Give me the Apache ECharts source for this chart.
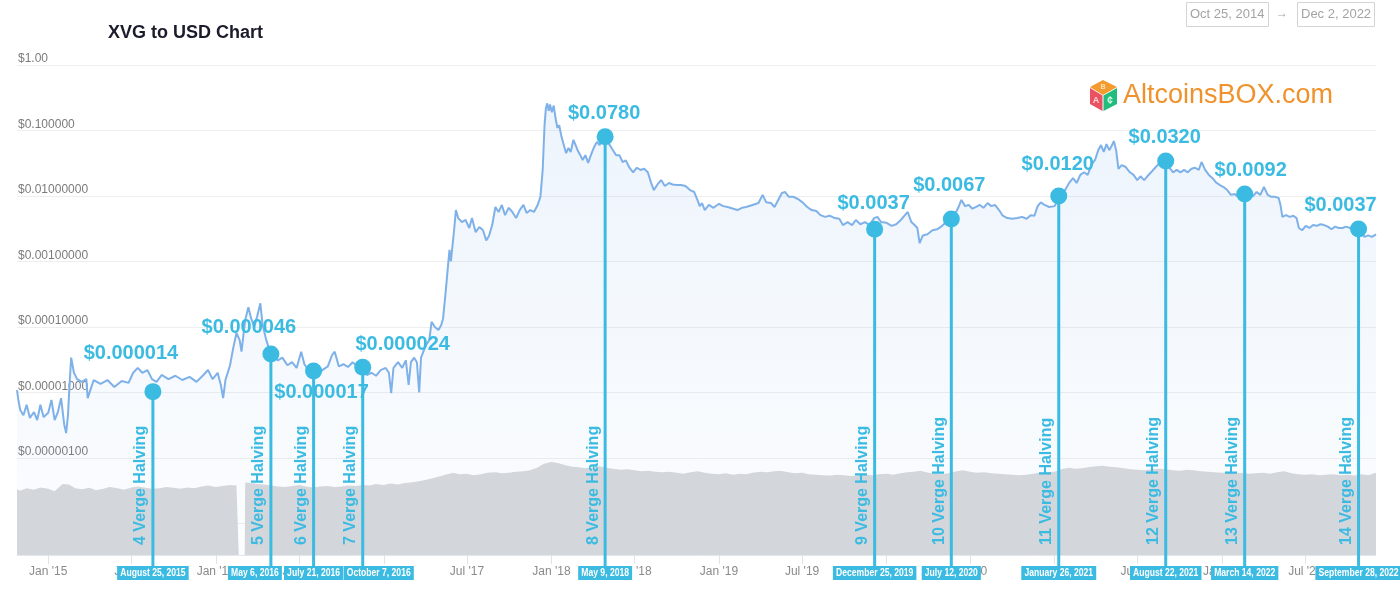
<!DOCTYPE html>
<html><head><meta charset="utf-8">
<script src="https://cdn.jsdelivr.net/npm/echarts@6/dist/echarts.min.js"></script>
<style>html,body{margin:0;padding:0;background:#fff}#c{width:1400px;height:600px}</style>
</head><body><div id="c"></div>
<script>
// ---------- DATA ----------
const rangeStart = 'Oct 25, 2014';
const rangeEnd = 'Dec 2, 2022';
const xMin = '2014-10-25';
const xMax = '2022-12-02';

const priceHistory = [
['2014-10-25',1.09e-5],['2014-10-28',7.7e-6],['2014-11-01',5.4e-6],['2014-11-08',4.5e-6],['2014-11-15',6.5e-6],['2014-11-22',4.1e-6],
['2014-12-01',5.0e-6],['2014-12-08',3.8e-6],['2014-12-15',6.5e-6],['2014-12-22',4.2e-6],['2015-01-01',4.9e-6],['2015-01-08',7.7e-6],
['2015-01-15',3.8e-6],['2015-01-22',5.0e-6],['2015-01-29',8.2e-6],['2015-02-05',3.2e-6],['2015-02-09',2.4e-6],['2015-02-13',4.5e-6],
['2015-02-17',1.55e-5],['2015-02-20',3.4e-5],['2015-02-26',2.0e-5],['2015-03-05',1.6e-5],['2015-03-15',1.45e-5],['2015-03-25',1.6e-5],
['2015-03-28',8.2e-6],['2015-04-10',1.55e-5],['2015-04-25',1.35e-5],['2015-05-10',1.55e-5],['2015-05-25',1.21e-5],['2015-06-10',1.5e-5],
['2015-06-25',1.4e-5],['2015-07-05',2.0e-5],['2015-07-15',2.37e-5],['2015-07-25',2.0e-5],['2015-08-05',2.2e-5],['2015-08-15',1.6e-5],
['2015-08-25',1.45e-5],['2015-09-05',1.85e-5],['2015-09-20',1.6e-5],['2015-10-05',1.8e-5],['2015-10-20',1.55e-5],['2015-11-05',1.73e-5],
['2015-11-20',1.45e-5],['2015-12-05',1.85e-5],['2015-12-15',2.2e-5],['2015-12-25',1.6e-5],['2016-01-05',2.0e-5],['2016-01-12',1.3e-5],
['2016-01-17',8.2e-6],['2016-01-22',1.55e-5],['2016-02-01',2.6e-5],['2016-02-08',4.8e-5],['2016-02-15',8.1e-5],['2016-02-22',6.3e-5],
['2016-02-26',4.2e-5],['2016-03-05',1.28e-4],['2016-03-12',2.0e-4],['2016-03-18',1.35e-4],['2016-03-25',1.0e-4],['2016-03-31',1.45e-4],
['2016-04-07',2.3e-4],['2016-04-12',1.07e-4],['2016-04-20',6.3e-5],['2016-04-28',4.2e-5],['2016-05-06',3.6e-5],['2016-05-15',3.1e-5],
['2016-05-25',3.4e-5],['2016-06-05',2.6e-5],['2016-06-15',2.9e-5],['2016-06-25',2.37e-5],['2016-07-05',4.2e-5],['2016-07-12',2.7e-5],
['2016-07-21',2.2e-5],['2016-08-01',2.0e-5],['2016-08-10',1.85e-5],['2016-08-20',2.2e-5],['2016-09-01',2.5e-5],['2016-09-10',3.7e-5],
['2016-09-16',4.2e-5],['2016-09-25',2.5e-5],['2016-10-05',2.7e-5],['2016-10-15',2.45e-5],['2016-10-25',2.9e-5],['2016-11-05',2.5e-5],
['2016-11-15',2.37e-5],['2016-11-25',1.85e-5],['2016-12-05',2.0e-5],['2016-12-15',1.8e-5],['2016-12-25',2.2e-5],['2017-01-05',2.37e-5],
['2017-01-12',2.0e-5],['2017-01-17',9.8e-6],['2017-01-22',2.37e-5],['2017-02-01',2.9e-5],['2017-02-10',2.37e-5],['2017-02-18',3.1e-5],
['2017-02-24',1.3e-5],['2017-03-01',2.9e-5],['2017-03-08',3.4e-5],['2017-03-14',2.9e-5],['2017-03-19',1.0e-5],['2017-03-23',3.4e-5],
['2017-03-28',4.2e-5],['2017-04-03',5.3e-5],['2017-04-10',6.3e-5],['2017-04-15',1.2e-4],['2017-04-22',1.0e-4],['2017-04-30',9.0e-5],
['2017-05-06',1.07e-4],['2017-05-10',1.35e-4],['2017-05-14',2.6e-4],['2017-05-18',5.2e-4],['2017-05-21',9.0e-4],['2017-05-24',1.5e-3],
['2017-05-27',1.0e-3],['2017-05-30',1.0e-3],['2017-06-03',3.0e-3],['2017-06-07',6.1e-3],['2017-06-12',4.6e-3],['2017-06-20',4.0e-3],
['2017-06-28',4.3e-3],['2017-07-06',3.25e-3],['2017-07-12',4.6e-3],['2017-07-20',2.8e-3],['2017-07-28',3.36e-3],['2017-08-05',3.0e-3],
['2017-08-12',2.1e-3],['2017-08-18',2.45e-3],['2017-08-25',3.6e-3],['2017-09-01',6.8e-3],['2017-09-08',5.7e-3],['2017-09-15',7.3e-3],
['2017-09-22',5.1e-3],['2017-09-30',6.6e-3],['2017-10-08',5.7e-3],['2017-10-16',4.6e-3],['2017-10-24',6.1e-3],['2017-11-01',7.3e-3],
['2017-11-08',5.5e-3],['2017-11-16',6.1e-3],['2017-11-24',5.7e-3],['2017-12-02',7.3e-3],['2017-12-08',9.7e-3],['2017-12-13',0.025],
['2017-12-17',0.12],['2017-12-20',0.22],['2017-12-23',0.26],['2017-12-26',0.2],['2017-12-29',0.25],['2018-01-02',0.19],
['2018-01-06',0.24],['2018-01-10',0.155],['2018-01-14',0.11],['2018-01-18',0.12],['2018-01-23',0.08],['2018-01-28',0.06],
['2018-02-02',0.045],['2018-02-07',0.054],['2018-02-12',0.047],['2018-02-18',0.072],['2018-02-22',0.077],['2018-02-27',0.05],
['2018-03-05',0.042],['2018-03-10',0.0355],['2018-03-16',0.042],['2018-03-22',0.032],['2018-03-28',0.042],['2018-04-03',0.054],
['2018-04-10',0.067],['2018-04-16',0.06],['2018-04-24',0.077],['2018-05-01',0.072],['2018-05-08',0.06],['2018-05-15',0.05],
['2018-05-22',0.042],['2018-05-29',0.042],['2018-06-05',0.033],['2018-06-12',0.035],['2018-06-20',0.027],['2018-06-28',0.023],
['2018-07-06',0.027],['2018-07-14',0.025],['2018-07-22',0.026],['2018-07-30',0.023],['2018-08-06',0.016],['2018-08-12',0.0123],
['2018-08-20',0.015],['2018-08-28',0.0175],['2018-09-05',0.0142],['2018-09-14',0.0158],['2018-09-22',0.015],['2018-10-01',0.0147],
['2018-10-10',0.0147],['2018-10-20',0.0142],['2018-10-30',0.0123],['2018-11-08',0.0115],['2018-11-15',0.0087],['2018-11-20',0.007],
['2018-11-25',0.0078],['2018-12-01',0.0061],['2018-12-10',0.0073],['2018-12-20',0.0066],['2019-01-01',0.0076],['2019-01-10',0.007],
['2019-01-20',0.0068],['2019-02-01',0.0064],['2019-02-10',0.0061],['2019-02-20',0.0066],['2019-03-01',0.0068],['2019-03-15',0.0073],
['2019-03-28',0.0078],['2019-04-06',0.0104],['2019-04-14',0.008],['2019-04-24',0.0078],['2019-05-02',0.0068],['2019-05-10',0.0087],
['2019-05-18',0.0111],['2019-05-25',0.0115],['2019-06-02',0.0097],['2019-06-12',0.0097],['2019-06-22',0.009],['2019-07-02',0.008],
['2019-07-12',0.0068],['2019-07-22',0.0061],['2019-08-01',0.0059],['2019-08-10',0.0051],['2019-08-20',0.0048],['2019-08-30',0.005],
['2019-09-10',0.0046],['2019-09-20',0.0045],['2019-09-28',0.0036],['2019-10-08',0.004],['2019-10-18',0.0036],['2019-10-26',0.0043],
['2019-11-05',0.0037],['2019-11-15',0.004],['2019-11-25',0.0036],['2019-12-05',0.0046],['2019-12-12',0.0048],['2019-12-20',0.004],
['2020-01-01',0.0039],['2020-01-12',0.0035],['2020-01-22',0.0037],['2020-02-01',0.0043],['2020-02-10',0.0051],['2020-02-16',0.0057],
['2020-02-24',0.004],['2020-03-02',0.0036],['2020-03-08',0.00325],['2020-03-13',0.0019],['2020-03-20',0.0025],['2020-03-30',0.0026],
['2020-04-10',0.003],['2020-04-20',0.0031],['2020-05-01',0.0035],['2020-05-10',0.004],['2020-05-20',0.0043],['2020-05-28',0.0051],
['2020-06-05',0.0066],['2020-06-12',0.0087],['2020-06-20',0.007],['2020-06-28',0.0073],['2020-07-06',0.0064],['2020-07-14',0.0068],
['2020-07-22',0.0073],['2020-07-30',0.0066],['2020-08-08',0.0078],['2020-08-16',0.007],['2020-08-24',0.0073],['2020-09-02',0.0061],
['2020-09-10',0.005],['2020-09-20',0.0046],['2020-10-01',0.0045],['2020-10-12',0.0046],['2020-10-22',0.0048],['2020-11-01',0.0045],
['2020-11-10',0.0051],['2020-11-18',0.005],['2020-11-25',0.007],['2020-12-02',0.008],['2020-12-10',0.0073],['2020-12-20',0.0068],
['2021-01-01',0.007],['2021-01-08',0.0087],['2021-01-16',0.0115],['2021-01-24',0.0123],['2021-02-02',0.016],['2021-02-10',0.0187],
['2021-02-18',0.0158],['2021-02-26',0.021],['2021-03-06',0.023],['2021-03-14',0.021],['2021-03-22',0.0297],['2021-03-30',0.0355],
['2021-04-06',0.05],['2021-04-12',0.06],['2021-04-18',0.047],['2021-04-24',0.062],['2021-04-30',0.05],['2021-05-05',0.058],
['2021-05-10',0.069],['2021-05-15',0.05],['2021-05-20',0.026],['2021-05-27',0.0297],['2021-06-05',0.0277],['2021-06-14',0.023],
['2021-06-22',0.021],['2021-06-30',0.0175],['2021-07-07',0.02],['2021-07-15',0.0175],['2021-07-22',0.02],['2021-07-30',0.023],
['2021-08-08',0.027],['2021-08-16',0.031],['2021-08-24',0.0355],['2021-09-01',0.032],['2021-09-08',0.027],['2021-09-16',0.023],
['2021-09-24',0.025],['2021-10-02',0.023],['2021-10-10',0.025],['2021-10-18',0.023],['2021-10-26',0.026],['2021-11-03',0.027],
['2021-11-11',0.025],['2021-11-17',0.033],['2021-11-25',0.025],['2021-12-03',0.021],['2021-12-11',0.0187],['2021-12-19',0.016],
['2021-12-27',0.0147],['2022-01-04',0.0137],['2022-01-12',0.0123],['2022-01-20',0.0104],['2022-01-28',0.0107],['2022-02-05',0.0097],
['2022-02-13',0.0111],['2022-02-21',0.01],['2022-03-01',0.0093],['2022-03-09',0.01],['2022-03-17',0.0115],['2022-03-25',0.0104],
['2022-04-02',0.0137],['2022-04-10',0.0104],['2022-04-18',0.0097],['2022-04-26',0.0097],['2022-05-04',0.0093],['2022-05-08',0.0073],
['2022-05-12',0.0048],['2022-05-20',0.0051],['2022-05-28',0.0048],['2022-06-05',0.005],['2022-06-12',0.0046],['2022-06-17',0.00325],
['2022-06-24',0.003],['2022-07-02',0.0035],['2022-07-10',0.00325],['2022-07-18',0.0036],['2022-07-26',0.0035],['2022-08-03',0.0037],
['2022-08-11',0.0036],['2022-08-19',0.0034],['2022-08-27',0.0031],['2022-09-04',0.0034],['2022-09-12',0.00325],['2022-09-20',0.00325],
['2022-09-28',0.0034],['2022-10-06',0.00325],['2022-10-14',0.0031],['2022-10-22',0.003],['2022-10-30',0.0028],['2022-11-07',0.00237],
['2022-11-15',0.0025],['2022-11-23',0.00237],['2022-12-02',0.0026]
];

// relative trading volume (index, 0-100 scale)
const volumeHistory = [
['2014-10-25',13.4],['2014-11-01',13.1],['2014-11-15',13.6],['2014-12-01',13.3],['2014-12-15',13.8],['2015-01-01',13.5],['2015-01-15',13.0],
['2015-02-01',14.5],['2015-02-15',14.4],['2015-03-01',13.6],['2015-03-15',13.4],['2015-04-01',13.7],['2015-04-15',13.2],['2015-05-01',13.5],
['2015-05-15',13.9],['2015-06-01',13.6],['2015-06-15',13.3],['2015-07-01',13.8],['2015-07-15',14.0],['2015-08-01',13.7],['2015-08-15',13.5],
['2015-09-01',13.6],['2015-09-15',13.9],['2015-10-01',13.7],['2015-10-15',13.5],['2015-11-01',13.8],['2015-11-15',13.6],['2015-12-01',14.0],
['2015-12-15',14.2],['2016-01-01',13.9],['2016-01-15',14.1],['2016-02-01',14.3],['2016-02-15',14.2],['2016-02-19',14.2],['2016-02-20',0],
['2016-03-04',0],['2016-03-05',14.8],['2016-03-15',14.7],['2016-04-01',14.5],['2016-04-15',14.4],['2016-05-01',14.2],['2016-05-15',14.0],
['2016-06-01',13.9],['2016-06-15',14.1],['2016-07-01',14.3],['2016-07-15',14.0],['2016-08-01',13.8],['2016-08-15',14.0],['2016-09-01',14.1],
['2016-09-15',13.9],['2016-10-01',14.0],['2016-10-15',14.2],['2016-11-01',14.1],['2016-11-15',14.3],['2016-12-01',14.2],['2016-12-15',14.5],
['2017-01-01',14.3],['2017-01-15',14.6],['2017-02-01',14.4],['2017-02-15',14.7],['2017-03-01',14.8],['2017-03-15',15.0],['2017-04-01',15.3],
['2017-04-15',15.6],['2017-05-01',16.0],['2017-05-15',16.4],['2017-06-01',16.8],['2017-06-15',16.5],['2017-07-01',16.6],['2017-07-15',16.3],
['2017-08-01',16.5],['2017-08-15',16.8],['2017-09-01',16.9],['2017-09-15',16.7],['2017-10-01',16.8],['2017-10-15',17.0],['2017-11-01',17.1],
['2017-11-15',17.3],['2017-12-01',17.8],['2017-12-15',18.6],['2018-01-01',19.0],['2018-01-15',18.8],['2018-02-01',18.3],['2018-02-15',18.0],
['2018-03-01',17.9],['2018-03-15',17.7],['2018-04-01',17.9],['2018-04-15',18.1],['2018-05-01',17.8],['2018-05-15',17.6],['2018-06-01',17.4],
['2018-06-15',17.5],['2018-07-01',17.3],['2018-07-15',17.1],['2018-08-01',17.2],['2018-08-15',17.0],['2018-09-01',16.9],['2018-09-15',17.0],
['2018-10-01',16.8],['2018-10-15',16.6],['2018-11-01',16.9],['2018-11-15',17.1],['2018-12-01',16.8],['2018-12-15',16.6],['2019-01-01',16.5],
['2019-01-15',16.7],['2019-02-01',16.4],['2019-02-15',16.6],['2019-03-01',16.5],['2019-03-15',16.8],['2019-04-01',17.0],['2019-04-15',16.9],
['2019-05-01',17.1],['2019-05-15',17.2],['2019-06-01',16.9],['2019-06-15',16.7],['2019-07-01',16.8],['2019-07-15',16.5],['2019-08-01',16.4],
['2019-08-15',16.3],['2019-09-01',16.2],['2019-09-15',16.4],['2019-10-01',16.3],['2019-10-15',16.1],['2019-11-01',16.2],['2019-11-15',16.4],
['2019-12-01',16.3],['2019-12-15',16.5],['2020-01-01',16.6],['2020-01-15',16.4],['2020-02-01',16.7],['2020-02-15',16.9],['2020-03-01',17.0],
['2020-03-15',17.2],['2020-04-01',16.8],['2020-04-15',16.6],['2020-05-01',16.5],['2020-05-15',16.7],['2020-06-01',17.1],['2020-06-15',17.3],
['2020-07-01',17.0],['2020-07-15',16.8],['2020-08-01',16.9],['2020-08-15',16.7],['2020-09-01',16.6],['2020-09-15',16.5],['2020-10-01',16.4],
['2020-10-15',16.3],['2020-11-01',16.4],['2020-11-15',16.6],['2020-12-01',16.8],['2020-12-15',16.9],['2021-01-01',17.0],['2021-01-15',17.5],
['2021-02-01',17.8],['2021-02-15',17.6],['2021-03-01',17.7],['2021-03-15',17.9],['2021-04-01',18.1],['2021-04-15',18.2],['2021-05-01',18.0],
['2021-05-15',17.9],['2021-06-01',17.7],['2021-06-15',17.5],['2021-07-01',17.4],['2021-07-15',17.3],['2021-08-01',17.5],['2021-08-15',17.6],
['2021-09-01',17.5],['2021-09-15',17.3],['2021-10-01',17.2],['2021-10-15',17.4],['2021-11-01',17.3],['2021-11-15',17.1],['2021-12-01',17.0],
['2021-12-15',16.9],['2022-01-01',16.8],['2022-01-15',16.9],['2022-02-01',16.7],['2022-02-15',16.8],['2022-03-01',16.6],['2022-03-15',16.7],
['2022-04-01',16.8],['2022-04-15',16.6],['2022-05-01',16.9],['2022-05-15',17.1],['2022-06-01',16.7],['2022-06-15',16.5],['2022-07-01',16.4],
['2022-07-15',16.5],['2022-08-01',16.3],['2022-08-15',16.4],['2022-09-01',16.5],['2022-09-15',16.3],['2022-10-01',16.4],['2022-10-15',16.2],
['2022-11-01',16.5],['2022-11-15',16.3],['2022-12-02',16.8]
];

const yTickLabels = ['$1.00','$0.100000','$0.01000000','$0.00100000','$0.00010000','$0.00001000','$0.00000100'];
const xTickDates = ['2015-01-01','2015-07-01','2016-01-01','2016-07-01','2017-01-01','2017-07-01','2018-01-01','2018-07-01',
  '2019-01-01','2019-07-01','2020-01-01','2020-07-01','2021-01-01','2021-07-01','2022-01-01','2022-07-01'];
const monthNames = ['Jan','Feb','Mar','Apr','May','Jun','Jul','Aug','Sep','Oct','Nov','Dec'];

const halvingNumbers = [4,5,6,7,8,9,10,11,12,13,14];
const halvingDateLabels = ['August 25, 2015','May 6, 2016','July 21, 2016','October 7, 2016','May 9, 2018','December 25, 2019',
  'July 12, 2020','January 26, 2021','August 22, 2021','March 14, 2022','September 28, 2022'];
const halvingPriceLabels = ['$0.000014','$0.000046','$0.000017','$0.000024','$0.0780','$0.0037','$0.0067','$0.0120','$0.0320','$0.0092','$0.0037'];
// where each marker sits on the chart
const halvingMarkDates = ['2015-08-17','2016-04-30','2016-08-01','2016-11-16','2018-04-28','2019-12-06','2020-05-21','2021-01-10','2021-08-31','2022-02-19','2022-10-25'];
const halvingMarkPrices = [1.03e-5,3.87e-5,2.13e-5,2.43e-5,0.0805,0.0031,0.00445,0.0100,0.0342,0.0107,0.00313];

// ---------- STYLE (positions of annotation texts relative to the markers) ----------
const priceLabelOffsets = [[-22,-38],[-22,-26],[8,22],[40,-23],[-1,-23],[-1,-26],[-2,-34],[-1,-32],[-1,-24],[6,-24],[-18,-24]];
const dateBoxShifts = [0,-16,0,16,0,0,0,0,0,0,0];

const MARK = '#3bbbe2';
const FONT = '"Liberation Sans", Arial, sans-serif';
const ts = (d) => Date.parse(d + 'T00:00:00Z');

const chart = echarts.init(document.getElementById('c'), null, {renderer: 'canvas'});

const option = {
  animation: false,
  backgroundColor: '#fff',
  title: [
    {text: 'XVG to USD Chart', left: 108, top: 24, padding: 0,
     textStyle: {fontFamily: FONT, fontSize: 18, fontWeight: 'bold', color: '#1b1b2b'}},
    {text: rangeStart, left: 1186, top: 2, padding: [6, 4, 6, 4], borderColor: '#d4d4d4', borderWidth: 1,
     textStyle: {fontFamily: FONT, fontSize: 13, fontWeight: 'normal', color: '#a3a3a3'}},
    {text: '→', left: 1276, top: 8, padding: 0,
     textStyle: {fontFamily: FONT, fontSize: 12, fontWeight: 'normal', color: '#a3a3a3'}},
    {text: rangeEnd, left: 1297, top: 2, padding: [6, 4, 6, 4], borderColor: '#d4d4d4', borderWidth: 1,
     textStyle: {fontFamily: FONT, fontSize: 13, fontWeight: 'normal', color: '#a3a3a3'}}
  ],
  graphic: [
    {type: 'polygon', shape: {points: [[1103,80],[1117,87],[1103,95],[1090,87]]}, style: {fill: '#f39b2f'}},
    {type: 'polygon', shape: {points: [[1090,88],[1102.5,95.5],[1102.5,111],[1090,104]]}, style: {fill: '#ea5161'}},
    {type: 'polygon', shape: {points: [[1103.5,95.5],[1117,88],[1117,104],[1103.5,111]]}, style: {fill: '#22bd7c'}},
    {type: 'text', x: 1103, y: 87, style: {text: 'B', fill: '#ffe3b8', font: 'bold 7px ' + FONT, align: 'center', verticalAlign: 'middle'}},
    {type: 'text', x: 1096, y: 101, style: {text: 'A', fill: '#ffd6da', font: 'bold 9px ' + FONT, align: 'center', verticalAlign: 'middle'}},
    {type: 'text', x: 1110, y: 101, style: {text: '¢', fill: '#d6ffe9', font: 'bold 10px ' + FONT, align: 'center', verticalAlign: 'middle'}},
    {type: 'text', x: 1123, y: 96, style: {text: 'AltcoinsBOX.com', fill: '#f0922c', font: '27px ' + FONT, align: 'left', verticalAlign: 'middle'}}
  ],
  grid: {left: 17, right: 24, top: 65, bottom: 45, containLabel: false},
  xAxis: {
    type: 'value', min: ts(xMin), max: ts(xMax),
    axisLine: {show: true, lineStyle: {color: '#e3e7ee'}},
    axisTick: {show: true, length: 9, lineStyle: {color: '#dfe4ec'}, customValues: xTickDates.map(ts)},
    axisLabel: {
      customValues: xTickDates.map(ts),
      margin: 11, color: '#8a8a8a', fontSize: 12, fontFamily: FONT,
      formatter: (v) => { const d = new Date(v); return monthNames[d.getUTCMonth()] + " '" + String(d.getUTCFullYear()).slice(2); }
    },
    splitLine: {show: false}
  },
  yAxis: [
    {
      type: 'log', logBase: 10, min: 3.3e-8, max: 1,
      axisLine: {show: false}, axisTick: {show: false},
      splitLine: {show: true, lineStyle: {color: '#eeeeee'}},
      axisLabel: {
        inside: true, margin: 1, verticalAlign: 'bottom', color: '#7b7b7b', fontSize: 12, fontFamily: FONT,
        formatter: (v) => {
          const e = Math.log10(v); const r = Math.round(e);
          if (Math.abs(e - r) > 1e-6 || r > 0 || -r >= yTickLabels.length) return '';
          return yTickLabels[-r];
        }
      }
    },
    {type: 'value', min: 0, max: 100, show: false}
  ],
  series: [
    {
      type: 'line', name: 'Price', data: priceHistory.map(([d, v]) => [ts(d), v]), yAxisIndex: 0, showSymbol: false, symbol: 'none',
      lineStyle: {color: '#7fb1e9', width: 2}, z: 2,
      areaStyle: {origin: 'start', color: new echarts.graphic.LinearGradient(0, 0, 0, 1, [
        {offset: 0, color: 'rgba(127,177,233,0.20)'}, {offset: 1, color: 'rgba(127,177,233,0.04)'}])}
    },
    {
      type: 'line', name: 'Volume', data: volumeHistory.map(([d, v]) => [ts(d), v]), yAxisIndex: 1, showSymbol: false, symbol: 'none',
      lineStyle: {width: 0}, areaStyle: {origin: 'start', color: '#d3d6db', opacity: 1}, z: 3
    },
    {
      type: 'custom', name: 'Halvings', z: 10, clip: false,
      data: halvingMarkDates.map((d, i) => [ts(d), halvingMarkPrices[i]]),
      renderItem: (params, api) => {
        const i = params.dataIndex;
        const p = api.coord([api.value(0), api.value(1)]);
        const cs = params.coordSys;
        const bottom = cs.y + cs.height;
        const x = p[0], y = p[1];
        return {type: 'group', children: [
          {type: 'line', shape: {x1: x, y1: y, x2: x, y2: bottom + 12}, style: {stroke: MARK, lineWidth: 3}},
          {type: 'circle', shape: {cx: x, cy: y, r: 8.5}, style: {fill: MARK}},
          {type: 'text', x: x + priceLabelOffsets[i][0], y: y + priceLabelOffsets[i][1],
           style: {text: halvingPriceLabels[i], fill: MARK, font: 'bold 20px ' + FONT, align: 'center', verticalAlign: 'middle'}},
          {type: 'text', x: x - 12, y: bottom - 10, rotation: Math.PI / 2,
           style: {text: halvingNumbers[i] + ' Verge Halving', fill: MARK, font: 'bold 16px ' + FONT, align: 'left', verticalAlign: 'middle'}},
          {type: 'text', x: x + dateBoxShifts[i], y: bottom + 18, scaleX: 0.78,
           style: {text: halvingDateLabels[i], fill: '#ffffff', backgroundColor: MARK, padding: [2, 4, 1, 4],
                   font: 'bold 11px ' + FONT, align: 'center', verticalAlign: 'middle'}}
        ]};
      }
    }
  ]
};
chart.setOption(option);
</script>
</body></html>
